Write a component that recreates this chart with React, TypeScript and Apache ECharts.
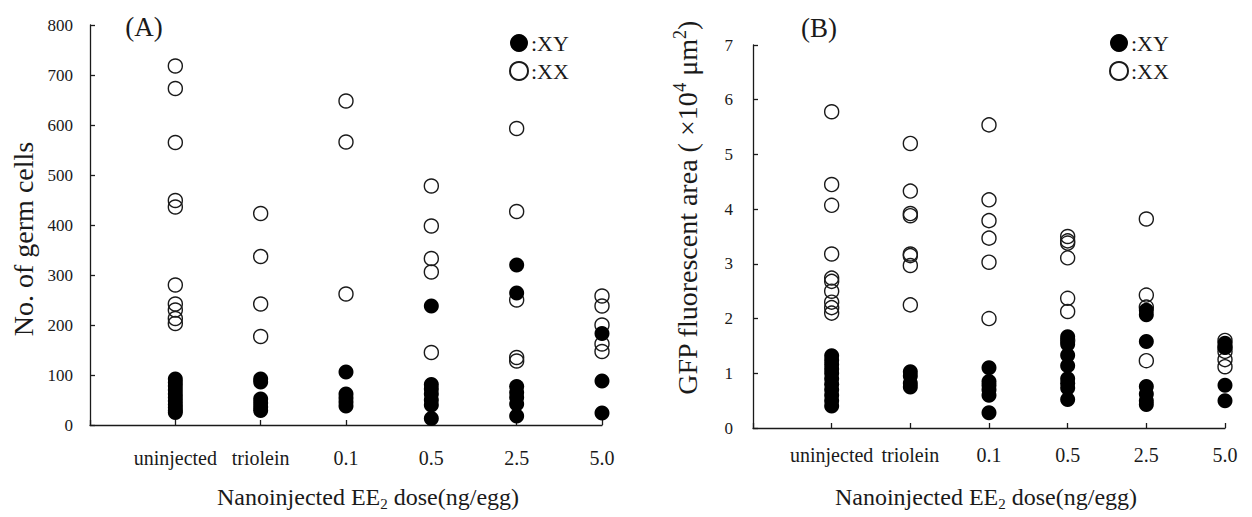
import React, { useEffect, useRef } from "react";
import * as echarts from "echarts";

const categories = ["uninjected", "triolein", "0.1", "0.5", "2.5", "5.0"];

// Panel A: No. of germ cells
const germXX: number[][] = [
  [718, 673, 565, 449, 436, 280, 242, 230, 213, 203],
  [423, 337, 242, 177],
  [648, 566, 262],
  [478, 398, 333, 306, 145],
  [593, 427, 250, 135, 128],
  [258, 238, 200, 162, 147],
];
const germXY: number[][] = [
  [92, 85, 78, 70, 62, 55, 48, 41, 35, 29, 25],
  [92, 86, 52, 44, 36, 29],
  [106, 62, 54, 46, 38],
  [238, 81, 72, 62, 50, 40, 13],
  [320, 264, 77, 65, 55, 42, 18],
  [183, 88, 24],
];
const germTicks = [0, 100, 200, 300, 400, 500, 600, 700, 800];

// Panel B: GFP fluorescent area (x10^4 um^2)
const gfpXX: number[][] = [
  [5.78, 4.45, 4.07, 3.18, 2.74, 2.68, 2.5, 2.3, 2.2, 2.1],
  [5.2, 4.33, 3.92, 3.88, 3.18, 3.15, 2.97, 2.25],
  [5.54, 4.17, 3.79, 3.47, 3.03, 2.0],
  [3.5, 3.42, 3.38, 3.11, 2.37, 2.13, 1.6],
  [3.82, 2.43, 2.21, 1.23],
  [1.6, 1.48, 1.4, 1.25, 1.12],
];
const gfpXY: number[][] = [
  [1.32, 1.24, 1.16, 1.08, 1.0, 0.9, 0.8, 0.7, 0.6, 0.5, 0.4],
  [1.03, 0.95, 0.82, 0.75],
  [1.1, 0.85, 0.78, 0.7, 0.6, 0.28],
  [1.67, 1.53, 1.33, 1.14, 0.9, 0.82, 0.73, 0.52],
  [2.15, 2.07, 1.58, 0.76, 0.62, 0.5, 0.43],
  [1.55, 1.47, 0.78, 0.5],
];
const gfpTicks = [0, 1, 2, 3, 4, 5, 6, 7];

const FONT = "Liberation Serif, DejaVu Serif, serif";
const INK = "#1a1a1a";

const toPoints = (groups: number[][]) =>
  groups.flatMap((vals, i) => vals.map((v) => [i + 1, v]));

export default function App() {
  const ref = useRef<HTMLDivElement>(null);

  useEffect(() => {
    if (!ref.current) return;
    const chart = echarts.init(ref.current, undefined, { renderer: "svg" });

    const xAxisBase = (gridIndex: number, margin: number) => ({
      type: "value",
      gridIndex,
      min: 0,
      max: categories.length,
      interval: 1,
      axisLine: { show: true, lineStyle: { color: INK, width: 1.3 } },
      axisTick: { show: true, inside: true, length: 5, lineStyle: { color: INK, width: 1.3 } },
      splitLine: { show: false },
      axisLabel: {
        margin,
        fontFamily: FONT,
        fontSize: 20,
        color: INK,
        formatter: (v: number) => (v >= 1 ? categories[v - 1] : ""),
      },
    });

    const yAxisBase = (gridIndex: number, ticks: number[], margin: number) => ({
      type: "value",
      gridIndex,
      min: ticks[0],
      max: ticks[ticks.length - 1],
      interval: ticks[1] - ticks[0],
      axisLine: { show: true, lineStyle: { color: INK, width: 1.3 } },
      axisTick: { show: true, inside: true, length: 5, lineStyle: { color: INK, width: 1.3 } },
      splitLine: { show: false },
      axisLabel: {
        margin,
        fontFamily: FONT,
        fontSize: 17,
        color: INK,
        padding: [10, 0, 0, 0],
      },
    });

    const openStyle = { color: "rgba(255,255,255,0)", borderColor: INK, borderWidth: 1.4, opacity: 1 };
    const fillStyle = { color: "#000", borderColor: "#000", borderWidth: 0, opacity: 1 };

    const legendBase = (left: number) => ({
      left,
      top: 27,
      orient: "vertical",
      itemWidth: 18,
      itemHeight: 18,
      itemGap: 6,
      icon: "circle",
      selectedMode: false,
      formatter: ":{name}",
      textStyle: { fontFamily: FONT, fontSize: 22, color: INK, padding: [0, 0, 0, -2] },
      data: [
        { name: "XY", itemStyle: { color: "#000", borderWidth: 0, opacity: 1 } },
        { name: "XX", itemStyle: { color: "#fff", borderColor: INK, borderWidth: 2, opacity: 1 } },
      ],
    });

    const option: any = {
      animation: false,
      backgroundColor: "#fff",
      textStyle: { fontFamily: FONT },
      grid: [
        { left: 90, top: 25, width: 512, height: 400 },
        { left: 753, top: 45, width: 472, height: 383 },
      ],
      xAxis: [xAxisBase(0, 23), xAxisBase(1, 17)],
      yAxis: [yAxisBase(0, germTicks, 17), yAxisBase(1, gfpTicks, 20)],
      legend: [legendBase(504), legendBase(1104)],
      series: [
        {
          name: "XX",
          type: "scatter",
          xAxisIndex: 0,
          yAxisIndex: 0,
          symbol: "circle",
          symbolSize: 14,
          itemStyle: openStyle,
          data: toPoints(germXX),
        },
        {
          name: "XY",
          type: "scatter",
          xAxisIndex: 0,
          yAxisIndex: 0,
          symbol: "circle",
          symbolSize: 15,
          itemStyle: fillStyle,
          data: toPoints(germXY),
        },
        {
          name: "XX",
          type: "scatter",
          xAxisIndex: 1,
          yAxisIndex: 1,
          symbol: "circle",
          symbolSize: 14,
          itemStyle: openStyle,
          data: toPoints(gfpXX),
        },
        {
          name: "XY",
          type: "scatter",
          xAxisIndex: 1,
          yAxisIndex: 1,
          symbol: "circle",
          symbolSize: 15,
          itemStyle: fillStyle,
          data: toPoints(gfpXY),
        },
      ],
      graphic: [
        {
          type: "text",
          x: 144,
          y: 27,
          style: { text: "(A)", fontFamily: FONT, fontSize: 27, fill: INK, align: "center", verticalAlign: "middle" },
        },
        {
          type: "text",
          x: 819,
          y: 28,
          style: { text: "(B)", fontFamily: FONT, fontSize: 27, fill: INK, align: "center", verticalAlign: "middle" },
        },
        {
          type: "text",
          x: 23,
          y: 239,
          rotation: Math.PI / 2,
          style: {
            text: "No. of germ cells",
            fontFamily: FONT,
            fontSize: 28,
            fill: INK,
            align: "center",
            verticalAlign: "middle",
          },
        },
        {
          type: "text",
          x: 687,
          y: 208,
          rotation: Math.PI / 2,
          style: {
            text: "{a|GFP fluorescent area ( ×10}{p|4}{a| μm}{p|2}{a|)}",
            align: "center",
            verticalAlign: "middle",
            rich: {
              a: { fontFamily: FONT, fontSize: 28, lineHeight: 32, fill: INK },
              p: { fontFamily: FONT, fontSize: 18, lineHeight: 18, verticalAlign: "top", fill: INK },
            },
          },
        },
        {
          type: "text",
          x: 368,
          y: 497,
          style: {
            text: "{a|Nanoinjected EE}{s|2}{a| dose(ng/egg)}",
            align: "center",
            verticalAlign: "middle",
            rich: {
              a: { fontFamily: FONT, fontSize: 24, lineHeight: 28, fill: INK },
              s: { fontFamily: FONT, fontSize: 15, lineHeight: 15, verticalAlign: "bottom", fill: INK },
            },
          },
        },
        {
          type: "text",
          x: 986,
          y: 497,
          style: {
            text: "{a|Nanoinjected EE}{s|2}{a| dose(ng/egg)}",
            align: "center",
            verticalAlign: "middle",
            rich: {
              a: { fontFamily: FONT, fontSize: 24, lineHeight: 28, fill: INK },
              s: { fontFamily: FONT, fontSize: 15, lineHeight: 15, verticalAlign: "bottom", fill: INK },
            },
          },
        },
      ],
    };

    chart.setOption(option);
    return () => chart.dispose();
  }, []);

  return (
    <div
      ref={ref}
      style={{ position: "fixed", left: 0, top: 0, width: 1252, height: 517, background: "#fff" }}
    />
  );
}
